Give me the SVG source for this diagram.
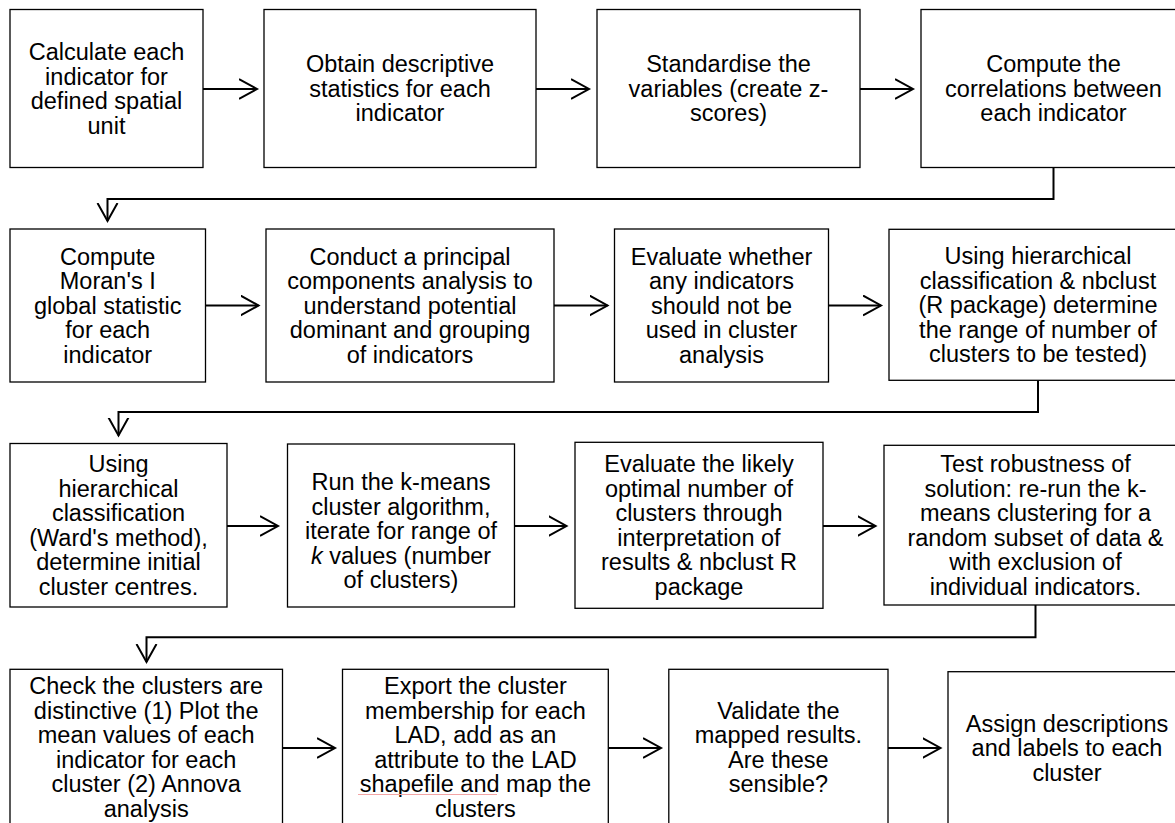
<svg xmlns="http://www.w3.org/2000/svg" width="1175" height="823" viewBox="0 0 1175 823">
<defs>
<style>
.box{fill:#fff;stroke:#000;stroke-width:1.3}
.t{font-family:"Liberation Sans",Arial,sans-serif;font-size:23.5px;fill:#000;text-anchor:middle}
.c{fill:none;stroke:#000;stroke-width:2}
</style>
<marker id="ah" markerUnits="userSpaceOnUse" markerWidth="22" markerHeight="24" refX="18" refY="11" orient="auto">
<path d="M0,1 L18,11 L0,21" fill="none" stroke="#000" stroke-width="2"/>
</marker>
</defs>
<rect width="1175" height="823" fill="#fff"/>

<g id="connectors">
<line class="c" x1="203" y1="89" x2="257" y2="89" marker-end="url(#ah)"/>
<line class="c" x1="536" y1="89" x2="589" y2="89" marker-end="url(#ah)"/>
<line class="c" x1="860" y1="89" x2="913" y2="89" marker-end="url(#ah)"/>
<polyline class="c" points="1053.5,167.5 1053.5,199 107.5,199 107.5,221" marker-end="url(#ah)"/>
<line class="c" x1="205.5" y1="305.5" x2="258.5" y2="305.5" marker-end="url(#ah)"/>
<line class="c" x1="554" y1="305.5" x2="607.5" y2="305.5" marker-end="url(#ah)"/>
<line class="c" x1="828.5" y1="305.5" x2="881" y2="305.5" marker-end="url(#ah)"/>
<polyline class="c" points="1038,380.5 1038,412 118.5,412 118.5,435.5" marker-end="url(#ah)"/>
<line class="c" x1="227" y1="526" x2="278" y2="526" marker-end="url(#ah)"/>
<line class="c" x1="514.5" y1="526" x2="566.5" y2="526" marker-end="url(#ah)"/>
<line class="c" x1="823" y1="526" x2="875.5" y2="526" marker-end="url(#ah)"/>
<polyline class="c" points="1035.5,605 1035.5,637.3 146.5,637.3 146.5,662" marker-end="url(#ah)"/>
<line class="c" x1="282.5" y1="748" x2="335" y2="748" marker-end="url(#ah)"/>
<line class="c" x1="608.3" y1="748" x2="661" y2="748" marker-end="url(#ah)"/>
<line class="c" x1="888" y1="748" x2="940.5" y2="748" marker-end="url(#ah)"/>
</g>

<g id="n1">
<rect class="box" x="10" y="9.5" width="193" height="158"/>
<text class="t"><tspan x="106.5" y="60.2">Calculate each</tspan><tspan x="106.5" y="84.7">indicator for</tspan><tspan x="106.5" y="109.2">defined spatial</tspan><tspan x="106.5" y="133.7">unit</tspan></text>
</g>
<g id="n2">
<rect class="box" x="264" y="9.5" width="272" height="158"/>
<text class="t"><tspan x="400" y="72.4">Obtain descriptive</tspan><tspan x="400" y="96.9">statistics for each</tspan><tspan x="400" y="121.4">indicator</tspan></text>
</g>
<g id="n3">
<rect class="box" x="597" y="9.5" width="263" height="158"/>
<text class="t"><tspan x="728.5" y="72.4">Standardise the</tspan><tspan x="728.5" y="96.9">variables (create z-</tspan><tspan x="728.5" y="121.4">scores)</tspan></text>
</g>
<g id="n4">
<rect class="box" x="921" y="9.5" width="265" height="158"/>
<text class="t"><tspan x="1053.5" y="72.4">Compute the</tspan><tspan x="1053.5" y="96.9">correlations between</tspan><tspan x="1053.5" y="121.4">each indicator</tspan></text>
</g>

<g id="n5">
<rect class="box" x="10" y="229" width="195.5" height="153"/>
<text class="t"><tspan x="107.75" y="264.9">Compute</tspan><tspan x="107.75" y="289.4">Moran's I</tspan><tspan x="107.75" y="313.9">global statistic</tspan><tspan x="107.75" y="338.4">for each</tspan><tspan x="107.75" y="362.9">indicator</tspan></text>
</g>
<g id="n6">
<rect class="box" x="266" y="229" width="288" height="153"/>
<text class="t"><tspan x="410" y="264.9">Conduct a principal</tspan><tspan x="410" y="289.4">components analysis to</tspan><tspan x="410" y="313.9">understand potential</tspan><tspan x="410" y="338.4">dominant and grouping</tspan><tspan x="410" y="362.9">of indicators</tspan></text>
</g>
<g id="n7">
<rect class="box" x="614.5" y="229" width="214" height="153"/>
<text class="t"><tspan x="721.5" y="264.9">Evaluate whether</tspan><tspan x="721.5" y="289.4">any indicators</tspan><tspan x="721.5" y="313.9">should not be</tspan><tspan x="721.5" y="338.4">used in cluster</tspan><tspan x="721.5" y="362.9">analysis</tspan></text>
</g>
<g id="n8">
<rect class="box" x="889" y="229.3" width="298" height="151"/>
<text class="t"><tspan x="1038" y="264.4">Using hierarchical</tspan><tspan x="1038" y="288.9">classification &amp; nbclust</tspan><tspan x="1038" y="313.4">(R package) determine</tspan><tspan x="1038" y="337.9">the range of number of</tspan><tspan x="1038" y="362.4">clusters to be tested)</tspan></text>
</g>

<g id="n9">
<rect class="box" x="10" y="443.5" width="217" height="163.5"/>
<text class="t"><tspan x="118.5" y="472.4">Using</tspan><tspan x="118.5" y="496.9">hierarchical</tspan><tspan x="118.5" y="521.4">classification</tspan><tspan x="118.5" y="545.9">(Ward's method),</tspan><tspan x="118.5" y="570.4">determine initial</tspan><tspan x="118.5" y="594.9">cluster centres.</tspan></text>
</g>
<g id="n10">
<rect class="box" x="287.5" y="444" width="227" height="163"/>
<text class="t"><tspan x="401" y="490">Run the k-means</tspan><tspan x="401" y="514.5">cluster algorithm,</tspan><tspan x="401" y="539">iterate for range of</tspan><tspan x="401" y="563.5"><tspan font-style="italic">k</tspan> values (number</tspan><tspan x="401" y="588">of clusters)</tspan></text>
</g>
<g id="n11">
<rect class="box" x="575" y="442.3" width="248" height="166"/>
<text class="t"><tspan x="699" y="472.4">Evaluate the likely</tspan><tspan x="699" y="496.9">optimal number of</tspan><tspan x="699" y="521.4">clusters through</tspan><tspan x="699" y="545.9">interpretation of</tspan><tspan x="699" y="570.4">results &amp; nbclust R</tspan><tspan x="699" y="594.9">package</tspan></text>
</g>
<g id="n12">
<rect class="box" x="884" y="445.3" width="303" height="159.7"/>
<text class="t"><tspan x="1035.5" y="472.4">Test robustness of</tspan><tspan x="1035.5" y="496.9">solution: re-run the k-</tspan><tspan x="1035.5" y="521.4">means clustering for a</tspan><tspan x="1035.5" y="545.9">random subset of data &amp;</tspan><tspan x="1035.5" y="570.4">with exclusion of</tspan><tspan x="1035.5" y="594.9">individual indicators.</tspan></text>
</g>

<g id="n13">
<rect class="box" x="10" y="669.3" width="272.5" height="156"/>
<text class="t"><tspan x="146.2" y="694">Check the clusters are</tspan><tspan x="146.2" y="718.5">distinctive (1) Plot the</tspan><tspan x="146.2" y="743">mean values of each</tspan><tspan x="146.2" y="767.5">indicator for each</tspan><tspan x="146.2" y="792">cluster (2) Annova</tspan><tspan x="146.2" y="816.5">analysis</tspan></text>
</g>
<g id="n14">
<rect class="box" x="342.5" y="669.3" width="265.8" height="156"/>
<text class="t"><tspan x="475.4" y="694">Export the cluster</tspan><tspan x="475.4" y="718.5">membership for each</tspan><tspan x="475.4" y="743">LAD, add as an</tspan><tspan x="475.4" y="767.5">attribute to the LAD</tspan><tspan x="475.4" y="792">shapefile and map the</tspan><tspan x="475.4" y="816.5">clusters</tspan></text>
<line x1="358" y1="794.5" x2="497" y2="794.5" stroke="#f2a5a5" stroke-width="1"/>
</g>
<g id="n15">
<rect class="box" x="668.8" y="669.3" width="219.2" height="156"/>
<text class="t"><tspan x="778.4" y="718.5">Validate the</tspan><tspan x="778.4" y="743">mapped results.</tspan><tspan x="778.4" y="767.5">Are these</tspan><tspan x="778.4" y="792">sensible?</tspan></text>
</g>
<g id="n16">
<rect class="box" x="948" y="671.7" width="238" height="154"/>
<text class="t"><tspan x="1067" y="731.7">Assign descriptions</tspan><tspan x="1067" y="756.2">and labels to each</tspan><tspan x="1067" y="780.7">cluster</tspan></text>
</g>
</svg>
